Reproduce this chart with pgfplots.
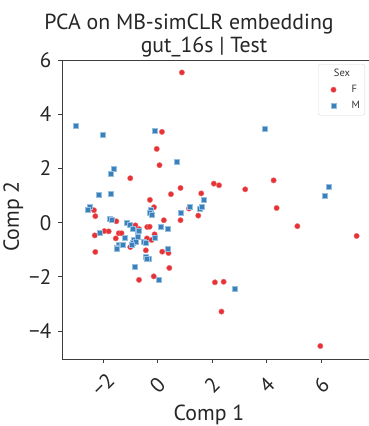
\documentclass[border=0pt]{standalone}
\usepackage{fontspec}
\setmainfont{PT Sans}
\usepackage{pgfplots}
\pgfplotsset{compat=1.18}
\definecolor{cred}{RGB}{230,50,55}
\definecolor{cblue}{RGB}{58,128,186}
\definecolor{cblueedge}{RGB}{150,190,225}
\definecolor{credge}{RGB}{240,110,110}
\definecolor{spine}{RGB}{60,60,60}
\pgfplotsset{mylegimg/.style={legend image code/.code={\path[draw=none,fill=none,rounded corners=0pt] (0pt,-2pt) rectangle (13pt,2pt); \draw[##1] plot coordinates {(10pt,0pt)};}}}
\begin{document}
\begin{tikzpicture}
\useasboundingbox (-62pt,-66.7pt) rectangle (307pt,359.3pt);
\begin{axis}[
  at={(0pt,0pt)}, anchor=south west,
  scale only axis, width=308pt, height=299.3pt,
  xmin=-3.5, xmax=7.78, ymin=-5.04, ymax=6.0,
  axis line style={spine, line width=0.8pt},
  tick style={spine, line width=0.8pt},
  tick align=outside, major tick length=3.5pt,
  xtick pos=bottom, ytick pos=left,
  xtick={-2,0,2,4,6}, xticklabels={−2,0,2,4,6},
  ytick={-4,-2,0,2,4,6}, yticklabels={−4,−2,0,2,4,6},
  ticklabel style={font=\fontsize{21}{24}\selectfont, text=black!85},
  yticklabel style={anchor=east, inner sep=0pt, xshift=-7pt},
  xticklabel style={yshift=-22pt, rotate=45, anchor=center, inner sep=0pt},
  legend style={at={(axis description cs:0.9838,0.9866)}, anchor=north east,
    draw=black!15, rounded corners=2pt, font=\fontsize{10.5}{12}\selectfont,
    text=black!80, inner xsep=5pt, inner ysep=4.5pt, row sep=6pt,
    nodes={inner sep=0pt, text height=8pt, text depth=2pt},
    /tikz/every odd column/.append style={column sep=15pt}},
  legend cell align=left,
]
\addlegendimage{empty legend}
\addlegendentry{\hspace*{-20pt}Sex}
\addplot[only marks, mylegimg, mark=*, mark size=2.7pt, mark options={fill=cred, draw=credge, line width=0.4pt}] coordinates {
(0.89,5.54) (0.16,3.35) (-0.03,2.72) (0.07,2.12) (-1.00,1.64) (2.06,1.44)
(2.25,1.38) (0.84,1.28) (0.49,1.05) (1.60,1.08) (-0.28,0.84) (-2.33,0.46)
(-2.28,0.24) (-0.13,0.57) (1.15,0.52) (1.49,0.26) (0.84,0.09) (-1.51,0.05)
(-0.81,-0.10) (-0.67,-0.24) (-0.38,-0.16) (-0.29,-0.15) (0.23,0.09) (-1.95,-0.31)
(-1.79,-0.32) (-2.30,-0.47) (-1.42,-0.39) (-1.32,-0.39) (-1.53,-0.58) (-0.11,-0.43)
(-0.39,-0.58) (-0.22,-0.64) (-1.49,-0.98) (-1.00,-0.90) (-2.28,-1.08) (-0.43,-1.02)
(0.17,-1.07) (0.40,-1.12) (0.43,-1.67) (-0.68,-2.11) (-0.14,-1.98) (2.10,-2.20)
(2.42,-2.18) (2.34,-3.28) (3.21,1.23) (4.25,1.56) (4.36,0.54) (5.12,-0.13)
(7.29,-0.49) (5.96,-4.55)
};
\addlegendentry{F}
\addplot[only marks, mylegimg, mark=square*, mark size=2.5pt, mark options={fill=cblue, draw=cblueedge, line width=0.5pt}] coordinates {
(-3.00,3.59) (-2.01,3.24) (-0.10,3.38) (0.71,2.24) (-1.59,1.98) (-1.70,1.82)
(-2.16,1.02) (-1.72,1.06) (1.70,0.84) (-2.49,0.57) (-2.56,0.49) (-0.26,0.49)
(-0.28,0.37) (-0.22,0.28) (1.17,0.60) (1.55,0.53) (1.61,0.57) (0.85,0.35)
(-1.75,0.15) (-1.66,0.09) (-1.12,-0.02) (-1.01,-0.06) (-0.92,-0.24) (-0.73,-0.33)
(-0.68,-0.31) (0.11,-0.15) (0.38,-0.22) (-2.11,-0.38) (-1.20,-0.54) (-0.87,-0.64)
(-0.90,-0.74) (-0.81,-0.71) (-0.74,-0.52) (-0.11,-0.54) (-0.52,-0.71) (-0.45,-0.75)
(-1.42,-0.83) (-1.31,-0.80) (-1.48,-0.92) (-1.51,-0.97) (-1.27,-0.83) (-0.93,-0.83)
(0.38,-0.95) (-0.43,-1.25) (-0.34,-1.34) (-0.40,-1.33) (-0.82,-1.63) (0.05,-2.11)
(2.82,-2.44) (3.92,3.46) (6.27,1.32) (6.12,1.01)
};
\addlegendentry{M}
\end{axis}
\begin{scope}[every node/.style={inner sep=0pt, text=black!85, font=\fontsize{21.8}{24}\selectfont}]
\node[anchor=base] at (127pt,329.3pt) {PCA on MB-simCLR embedding};
\node[anchor=base] at (142pt,306.3pt) {gut\_16s | Test};
\node[anchor=base] at (147pt,-60.7pt) {Comp 1};
\node[anchor=base, rotate=90] at (-43pt,142.6pt) {Comp 2};
\end{scope}
\end{tikzpicture}
\end{document}
